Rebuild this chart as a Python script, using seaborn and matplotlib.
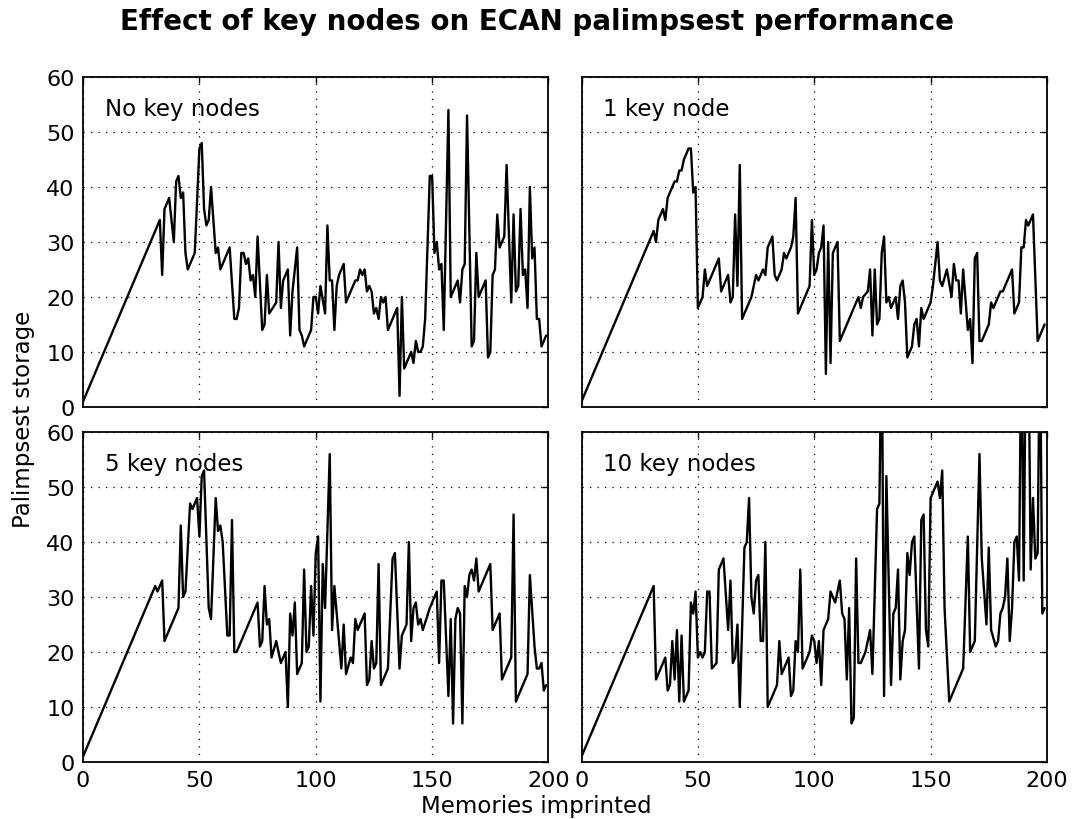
import numpy as np
import pandas as pd
import matplotlib
matplotlib.use("Agg")
import matplotlib.pyplot as plt
import seaborn as sns

# values (x = memories imprinted, y = palimpsest storage)
x_none = [0, 33, 34, 35, 37, 39, 40, 41, 42, 43, 44, 45, 48, 50, 51, 52, 53, 54, 55, 57,
          58, 59, 63, 65, 66, 67, 68, 69, 70, 71, 72, 73, 74, 75, 77, 78, 79, 80, 83, 84,
          85, 86, 88, 89, 90, 92, 93, 94, 95, 98, 99, 100, 101, 102, 104, 105, 106, 107, 108, 109,
          110, 112, 113, 117, 118, 119, 120, 121, 122, 123, 124, 125, 126, 127, 128, 129, 130, 131, 135, 136,
          137, 138, 141, 142, 143, 144, 145, 146, 147, 149, 150, 151, 152, 153, 154, 155, 157, 158, 161, 162,
          163, 164, 165, 167, 168, 169, 170, 173, 174, 175, 176, 177, 178, 179, 181, 182, 184, 185, 186, 187,
          188, 189, 190, 191, 192, 193, 194, 195, 196, 197, 199]
y_none = [1, 34, 24, 36, 38, 30, 41, 42, 38, 39, 28, 25, 28, 47, 48, 36, 33, 34, 40, 28,
          29, 25, 29, 16, 16, 18, 28, 28, 26, 27, 23, 24, 20, 31, 14, 15, 24, 17, 19, 30,
          18, 23, 25, 13, 21, 29, 14, 13, 11, 14, 20, 20, 17, 22, 17, 33, 23, 23, 14, 22,
          24, 26, 19, 23, 23, 25, 24, 25, 21, 22, 21, 17, 18, 16, 20, 19, 20, 14, 18, 2,
          20, 7, 10, 8, 12, 10, 10, 11, 16, 42, 42, 28, 30, 25, 26, 14, 54, 20, 23, 19,
          25, 26, 53, 11, 12, 28, 20, 23, 9, 10, 24, 25, 35, 29, 31, 44, 19, 35, 21, 22,
          36, 24, 25, 18, 40, 27, 29, 16, 16, 11, 13]

x_one = [0, 31, 32, 33, 35, 36, 37, 38, 40, 41, 42, 43, 44, 46, 47, 48, 49, 50, 52, 53,
         54, 59, 60, 63, 64, 65, 66, 67, 68, 69, 73, 75, 76, 77, 78, 79, 80, 82, 83, 84,
         86, 87, 88, 90, 91, 92, 93, 98, 99, 100, 101, 102, 103, 104, 105, 106, 107, 108, 109, 110,
         111, 119, 120, 121, 123, 124, 125, 126, 127, 128, 129, 130, 131, 132, 133, 135, 136, 137, 138, 139,
         140, 142, 143, 144, 145, 146, 147, 150, 151, 153, 154, 155, 157, 159, 160, 161, 162, 163, 164, 166,
         167, 168, 169, 170, 171, 172, 175, 176, 177, 180, 181, 185, 186, 188, 189, 190, 191, 192, 194, 196,
         199]
y_one = [1, 32, 30, 34, 36, 34, 38, 39, 41, 41, 43, 43, 45, 47, 47, 39, 40, 18, 20, 25,
         22, 27, 21, 24, 19, 20, 35, 22, 44, 16, 20, 24, 23, 24, 25, 24, 29, 31, 24, 23,
         25, 28, 27, 29, 31, 38, 17, 22, 34, 24, 25, 28, 29, 33, 6, 30, 8, 28, 29, 30,
         12, 20, 18, 20, 21, 25, 13, 25, 15, 16, 28, 31, 19, 20, 18, 20, 16, 22, 23, 19,
         9, 11, 15, 16, 11, 18, 16, 19, 22, 30, 23, 22, 25, 20, 26, 23, 23, 17, 25, 14,
         16, 8, 27, 28, 12, 12, 15, 19, 18, 21, 21, 25, 17, 19, 29, 29, 34, 33, 35, 12,
         15]

x_five = [0, 31, 32, 34, 35, 41, 42, 43, 44, 46, 47, 49, 50, 51, 52, 54, 55, 57, 58, 59,
          60, 62, 63, 64, 65, 66, 75, 76, 77, 78, 79, 80, 81, 83, 85, 86, 87, 88, 89, 90,
          91, 92, 94, 95, 96, 97, 98, 99, 100, 101, 102, 103, 104, 106, 107, 108, 111, 112, 113, 115,
          116, 117, 118, 121, 122, 123, 124, 125, 126, 127, 128, 131, 133, 134, 136, 137, 139, 140, 141, 142,
          143, 144, 145, 146, 149, 151, 152, 153, 154, 155, 157, 158, 159, 160, 161, 162, 163, 164, 165, 166,
          167, 168, 169, 170, 175, 176, 179, 180, 184, 185, 186, 191, 192, 194, 195, 196, 197, 198, 199]
y_five = [1, 32, 31, 33, 22, 28, 43, 30, 31, 47, 46, 48, 41, 52, 53, 28, 26, 48, 42, 43,
          40, 23, 23, 44, 20, 20, 29, 21, 22, 32, 25, 26, 19, 22, 18, 19, 20, 10, 27, 23,
          29, 16, 18, 35, 20, 21, 32, 23, 38, 41, 11, 36, 28, 56, 24, 32, 17, 25, 16, 19,
          18, 26, 24, 27, 14, 15, 22, 17, 18, 36, 14, 17, 37, 38, 17, 23, 25, 40, 22, 28,
          29, 25, 26, 24, 28, 30, 31, 18, 33, 33, 12, 26, 7, 26, 28, 27, 7, 32, 30, 34,
          35, 33, 37, 31, 36, 24, 27, 15, 19, 45, 11, 16, 34, 21, 17, 17, 18, 13, 14]

x_ten = [0, 31, 32, 36, 37, 38, 39, 40, 41, 42, 43, 44, 46, 47, 48, 49, 50, 51, 52, 53,
         54, 55, 56, 58, 59, 61, 63, 64, 65, 66, 67, 68, 70, 71, 72, 73, 74, 75, 76, 77,
         78, 79, 80, 84, 85, 86, 89, 90, 91, 92, 93, 94, 95, 98, 99, 100, 101, 102, 103, 104,
         106, 107, 109, 111, 112, 113, 114, 115, 116, 117, 118, 119, 120, 122, 124, 125, 127, 128, 129, 130,
         131, 133, 134, 135, 136, 137, 138, 139, 140, 141, 142, 143, 145, 146, 147, 148, 149, 150, 153, 154,
         155, 156, 158, 164, 166, 167, 169, 171, 172, 174, 175, 176, 178, 179, 180, 181, 182, 183, 184, 185,
         186, 187, 188, 189, 190, 191, 192, 193, 194, 195, 196, 197, 198, 199]
y_ten = [1, 32, 15, 19, 13, 14, 22, 15, 24, 11, 23, 11, 13, 29, 27, 31, 19, 20, 19, 20,
         31, 31, 17, 18, 35, 37, 24, 33, 18, 19, 25, 10, 39, 40, 48, 30, 27, 33, 34, 22,
         22, 40, 10, 14, 22, 16, 19, 12, 13, 22, 20, 35, 17, 20, 23, 22, 18, 22, 14, 24,
         26, 31, 29, 33, 27, 26, 15, 28, 7, 8, 37, 18, 18, 20, 24, 16, 46, 47, 80, 12,
         52, 14, 27, 28, 35, 15, 22, 24, 38, 34, 40, 41, 17, 44, 45, 24, 21, 48, 51, 48,
         53, 28, 11, 17, 41, 20, 22, 56, 37, 25, 39, 24, 21, 22, 27, 28, 30, 37, 22, 28,
         40, 41, 33, 80, 33, 80, 80, 35, 48, 37, 38, 80, 27, 28]

panel_titles = ["No key nodes", "1 key node", "5 key nodes", "10 key nodes"]
series = [(x_none, y_none), (x_one, y_one), (x_five, y_five), (x_ten, y_ten)]
x_ticks = [0, 50, 100, 150, 200]
y_ticks = [0, 10, 20, 30, 40, 50, 60]

sns.set_style("white")
plt.rcParams['font.family'] = ['DejaVu Sans']
plt.rcParams['text.color'] = 'black'
plt.rcParams['axes.labelcolor'] = 'black'

fig, axes = plt.subplots(2, 2, figsize=(10.8, 8.2), dpi=100, sharex=True, sharey=True)
fig.subplots_adjust(left=0.0769, right=0.9694, top=0.9049, bottom=0.0695,
                    wspace=0.071, hspace=0.076)

for ax, label, (xs, ys) in zip(axes.flat, panel_titles, series):
    df = pd.DataFrame({'memories': xs, 'storage': ys})
    sns.lineplot(data=df, x='memories', y='storage', ax=ax, color='black',
                 linewidth=1.7, estimator=None, sort=False)
    ax.set_xlim(0, 200)
    ax.set_ylim(0, 60)
    ax.set_xticks(x_ticks)
    ax.set_yticks(y_ticks)
    ax.grid(True, color='black', linestyle=(0, (1, 5)), linewidth=0.9)
    ax.tick_params(direction='in', length=4, width=1, top=True, right=True,
                   labelsize=16, colors='black', pad=6)
    for sp in ax.spines.values():
        sp.set_color('black')
        sp.set_linewidth(1.3)
    ax.set_xlabel('')
    ax.set_ylabel('')
    ax.text(0.047, 0.905, label, transform=ax.transAxes, fontsize=16.5,
            ha='left', va='center', color='black')

fig.suptitle('Effect of key nodes on ECAN palimpsest performance',
             fontsize=20, fontweight='bold', x=0.497, y=0.99, color='black')
fig.supxlabel('Memories imprinted', fontsize=16.5, x=0.497, y=0.003, color='black')
fig.supylabel('Palimpsest storage', fontsize=16.5, x=0.011, y=0.488, color='black')

fig.savefig('out.png', dpi=100)
